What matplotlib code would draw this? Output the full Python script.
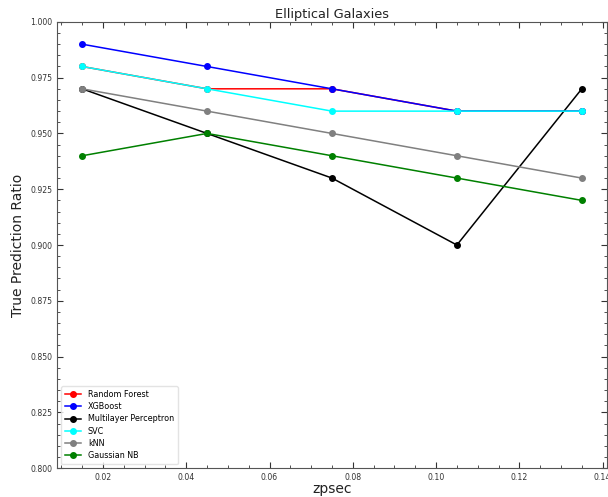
import matplotlib
matplotlib.use("Agg")
import matplotlib.pyplot as plt
from matplotlib.ticker import MultipleLocator

# средние значения z-бинов
zpsec = [0.015, 0.045, 0.075, 0.105, 0.135]

random_forest = [0.98, 0.97, 0.97, 0.96, 0.96]
xgboost = [0.99, 0.98, 0.97, 0.96, 0.96]
mlp = [0.97, 0.95, 0.93, 0.90, 0.97]
svc = [0.98, 0.97, 0.96, 0.96, 0.96]
knn = [0.97, 0.96, 0.95, 0.94, 0.93]
gaussian_nb = [0.94, 0.95, 0.94, 0.93, 0.92]

models = [
    ("Random Forest", random_forest, "red"),
    ("XGBoost", xgboost, "blue"),
    ("Multilayer Perceptron", mlp, "black"),
    ("SVC", svc, "cyan"),
    ("kNN", knn, "grey"),
    ("Gaussian NB", gaussian_nb, "green"),
]

fig = plt.figure(figsize=(6.08, 4.97), dpi=100)
ax = fig.add_axes([0.094, 0.058, 0.904, 0.898])

for name, values, color in models:
    ax.plot(zpsec, values, color=color, marker="o", markersize=4,
            linewidth=1.1, label=name)

ax.set_ylim(0.8, 1.0)
ax.yaxis.set_major_locator(MultipleLocator(0.025))
ax.yaxis.set_minor_locator(MultipleLocator(0.005))
ax.xaxis.set_major_locator(MultipleLocator(0.02))
ax.xaxis.set_minor_locator(MultipleLocator(0.005))
ax.yaxis.set_major_formatter(plt.FormatStrFormatter("%.3f"))
ax.xaxis.set_major_formatter(plt.FormatStrFormatter("%.2f"))

ax.tick_params(which="both", direction="in", top=True, right=True,
               labelsize=5.6, colors="#333333", labelcolor="#333333")
ax.tick_params(which="major", length=4, width=0.8)
ax.tick_params(which="minor", length=2, width=0.6)
for spine in ax.spines.values():
    spine.set_color("#555555")

ax.set_xlabel("zpsec", fontsize=10, color="#222222", labelpad=0)
ax.set_ylabel("True Prediction Ratio", fontsize=10, color="#222222")
ax.set_title("Elliptical Galaxies", fontsize=9.3, color="#222222", pad=3)

ax.legend(loc="lower left", fontsize=5.8, handlelength=2.0,
          borderpad=0.5, labelspacing=0.4, edgecolor="#dddddd")

fig.savefig("out.png", dpi=100)
